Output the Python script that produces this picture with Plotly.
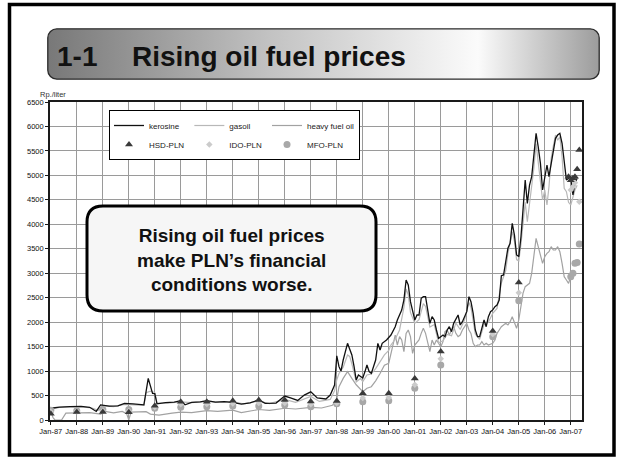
import base64
import plotly.graph_objects as go

# ---------------- data ----------------
kero_dates = ["1987-01","1987-05","1987-10","1988-03","1988-07","1988-10","1988-12","1989-04","1989-08","1989-11",
              "1990-03","1990-06","1990-08","1990-10","1990-12","1991-01","1991-02","1991-06","1991-10","1992-01",
              "1992-03","1992-06","1992-10","1993-01","1993-05","1993-09","1994-01","1994-05","1994-09","1995-01",
              "1995-04","1995-09","1996-01","1996-04","1996-07","1996-10","1997-01","1997-04","1997-08","1997-10",
              "1997-12","1998-01","1998-02","1998-03","1998-04","1998-06","1998-07","1998-08","1998-09","1998-10",
              "1998-11","1999-01","1999-02","1999-03","1999-04","1999-05","1999-07","1999-08","1999-09","1999-10",
              "1999-12","2000-01","2000-02","2000-04","2000-05","2000-07","2000-08","2000-09","2000-10","2000-11",
              "2001-01","2001-02","2001-03","2001-04","2001-05","2001-06","2001-07","2001-08","2001-09","2001-10",
              "2001-11","2001-12","2002-01","2002-02","2002-03","2002-04","2002-05","2002-06","2002-07","2002-08",
              "2002-09","2002-10","2002-11","2003-01","2003-02","2003-03","2003-04","2003-05","2003-06","2003-07",
              "2003-08","2003-09","2003-10","2003-11","2003-12","2004-01","2004-02","2004-03","2004-04","2004-05",
              "2004-06","2004-07","2004-08","2004-09","2004-10","2004-11","2004-12","2005-01","2005-02","2005-03",
              "2005-04","2005-05","2005-06","2005-07","2005-08","2005-09","2005-10","2005-11","2005-12","2006-01",
              "2006-02","2006-03","2006-04","2006-05","2006-06","2006-07","2006-08","2006-09","2006-10","2006-11",
              "2006-12","2007-01","2007-02","2007-03","2007-04"]
kero_vals = [240,265,275,278,260,175,310,285,290,340,
             330,320,310,850,545,540,330,355,365,395,
             310,360,370,395,365,375,360,325,350,410,
             340,345,490,445,400,510,575,450,430,510,
             715,1310,1090,1000,1226,1567,1465,1329,1090,818,
             920,860,990,1124,987,954,1226,1567,1431,1567,
             1635,1690,1737,1907,2044,2248,2453,2862,2760,2419,
             2044,2146,2146,2487,2521,2521,2248,1976,2112,2044,
             1840,1669,1703,1737,1703,1840,1907,1805,1976,2078,
             2146,1942,2010,2214,2521,2418,2180,1840,1703,1703,
             1907,2044,1907,2112,2214,2250,2316,2350,2453,2950,
             2964,3200,3510,3610,4020,3780,3373,3340,3750,4290,
             4906,4429,4803,4973,5382,5860,5586,5246,4701,4973,
             5212,4973,5246,5519,5758,5825,5860,5656,5314,4906,
             4940,4973,4599,4838,4940]

gas_dates = ["1987-01","1987-05","1987-10","1988-03","1988-08","1988-11","1989-01","1989-06","1989-11","1990-04",
             "1990-08","1990-09","1990-11","1991-01","1991-02","1991-07","1992-01","1992-06","1993-01","1993-06",
             "1994-01","1994-06","1995-01","1995-06","1996-01","1996-06","1996-10","1997-01","1997-05","1997-10",
             "1997-12","1998-01","1998-02","1998-04","1998-06","1998-07","1998-08","1998-10","1998-12","1999-01",
             "1999-03","1999-05","1999-07","1999-09","1999-11","2000-01","2000-02","2000-04","2000-06","2000-08",
             "2000-09","2000-10","2000-11","2001-01","2001-03","2001-05","2001-06","2001-08","2001-10","2001-12",
             "2002-02","2002-04","2002-06","2002-08","2002-10","2002-12","2003-02","2003-03","2003-05","2003-07",
             "2003-09","2003-11","2004-01","2004-03","2004-05","2004-07","2004-08","2004-10","2004-11","2004-12",
             "2005-01","2005-02","2005-03","2005-04","2005-05","2005-06","2005-07","2005-08","2005-09","2005-10",
             "2005-11","2005-12","2006-01","2006-02","2006-03","2006-04","2006-05","2006-06","2006-07","2006-08",
             "2006-09","2006-10","2006-11","2006-12","2007-01","2007-02","2007-03","2007-04"]
gas_vals = [215,255,270,270,245,200,290,275,320,315,
            300,560,590,560,350,345,370,355,380,360,
            370,330,385,335,420,360,420,480,380,420,
            600,820,950,1080,1330,1300,1150,780,850,783,
            920,940,1050,1200,1330,1420,1533,1650,1840,2300,
            2680,2560,2200,1976,2050,2380,2320,1900,1950,1580,
            1620,1750,1720,1980,1850,2050,2400,2300,1760,1650,
            1950,2000,2180,2280,2800,3050,3400,3850,3650,3280,
            3250,3600,4000,4450,4053,4450,4700,5150,5650,5250,
            4800,4497,4700,4395,4769,5348,5600,5825,5720,5790,
            5382,4736,4667,4450,4395,4560,4700,4800]

hfo_dates = ["1987-01","1987-02","1987-03","1987-06","1987-08","1988-01","1988-07","1988-12","1989-02","1989-06",
             "1989-10","1989-12","1990-01","1990-02","1990-09","1990-11","1991-03","1991-09","1992-01","1992-06",
             "1993-01","1993-06","1994-01","1994-05","1994-09","1995-01","1995-06","1996-01","1996-06","1997-01",
             "1997-06","1997-11","1998-01","1998-02","1998-04","1998-06","1998-08","1998-10","1999-01","1999-03",
             "1999-05","1999-07","1999-09","1999-11","2000-01","2000-02","2000-03","2000-04","2000-05","2000-06",
             "2000-07","2000-08","2000-09","2000-10","2000-11","2000-12","2001-01","2001-03","2001-04","2001-05",
             "2001-06","2001-07","2001-08","2001-09","2001-10","2001-11","2002-01","2002-02","2002-03","2002-04",
             "2002-05","2002-06","2002-07","2002-08","2002-09","2002-10","2002-11","2003-01","2003-02","2003-03",
             "2003-04","2003-05","2003-06","2003-07","2003-08","2003-09","2003-10","2003-11","2004-01","2004-02",
             "2004-03","2004-04","2004-05","2004-06","2004-07","2004-08","2004-09","2004-10","2004-11","2004-12",
             "2005-01","2005-02","2005-03","2005-04","2005-05","2005-06","2005-07","2005-08","2005-09","2005-10",
             "2005-11","2005-12","2006-01","2006-02","2006-03","2006-04","2006-05","2006-06","2006-07","2006-08",
             "2006-09","2006-10","2006-11","2006-12","2007-01","2007-02","2007-03"]
hfo_vals = [180,50,0,0,140,145,150,120,175,145,
            175,130,0,160,170,120,100,140,160,150,
            190,175,200,150,185,215,195,240,225,260,
            245,300,430,680,850,990,850,720,580,650,
            680,800,950,1120,1160,1363,1567,1737,1533,1703,
            1635,1397,1771,1840,1703,1363,1533,1635,1771,1874,
            1771,1567,1397,1635,1533,1635,1499,1601,1805,1840,
            1737,1840,1908,1771,1703,1737,1840,1976,1840,1771,
            1567,1499,1533,1533,1601,1533,1567,1533,1567,1635,
            1771,1840,1907,1942,1976,1942,2010,2112,1976,1874,
            2044,2316,2589,2725,2760,2794,2998,3407,3713,3543,
            3373,3203,3338,3407,3441,3543,3475,3475,3543,3441,
            3203,2930,2862,2794,2930,2998,3050]

hsd_dates = ["1987-01","1988-01","1989-01","1990-01","1991-01","1992-01","1993-01","1994-01","1995-01","1996-01",
             "1997-01","1998-01","1999-01","2000-01","2001-01","2002-01","2004-01","2005-01",
             "2006-12","2007-01","2007-02","2007-03","2007-04","2007-05"]
hsd_vals = [130,165,165,160,290,375,375,395,410,410,
            380,390,545,545,850,1400,1820,2810,
            4973,4900,4940,4973,5124,5519]

ido_dates = ["1987-01","1988-01","1989-01","1990-01","1991-01","1992-01","1993-01","1994-01","1995-01","1996-01",
             "1997-01","1998-01","1999-01","2000-01","2001-01","2002-01","2004-01","2005-01",
             "2007-01","2007-02","2007-03","2007-05"]
ido_vals = [170,180,190,185,265,320,325,335,345,350,
            320,350,450,460,720,1250,1760,2600,
            4700,4769,4850,4463]

mfo_dates = ["1987-01","1988-01","1989-01","1990-01","1991-01","1992-01","1993-01","1994-01","1995-01","1996-01",
             "1997-01","1998-01","1999-01","2000-01","2001-01","2002-01","2004-01","2005-01",
             "2007-01","2007-02","2007-03","2007-04","2007-05"]
mfo_vals = [200,190,215,215,240,260,272,286,286,307,
            272,330,375,395,647,1124,1703,2439,
            2930,2998,3203,3220,3600]

y_ticks = list(range(0, 6501, 500))

# ---------------- layout helpers ----------------
W, H = 621, 459
ML, MR, MT, MB = 50, 39, 102, 39
PW, PH = W - ML - MR, H - MT - MB

def fx(px):
    return (px - ML) / PW

def fy(py):
    return (H - MB - py) / PH

NARROW = "Liberation Sans Narrow, Arial Narrow, Liberation Sans, Arial, sans-serif"
BOLD = "Liberation Sans, Arial, Helvetica, sans-serif"

fig = go.Figure()

fig.add_trace(go.Scatter(x=hfo_dates, y=hfo_vals, mode="lines", name="heavy fuel oil",
                         line=dict(color="#a2a2a2", width=1.2), legendgroup="g3", legendrank=5))
fig.add_trace(go.Scatter(x=gas_dates, y=gas_vals, mode="lines", name="gasoil",
                         line=dict(color="#b8b8b8", width=1.2), legendgroup="g2", legendrank=3))
fig.add_trace(go.Scatter(x=kero_dates, y=kero_vals, mode="lines", name="kerosine",
                         line=dict(color="#111111", width=1.3), legendgroup="g1", legendrank=1))
fig.add_trace(go.Scatter(x=mfo_dates, y=mfo_vals, mode="markers", name="MFO-PLN",
                         marker=dict(symbol="circle", size=7, color="#a8a8a8"), legendgroup="g3", legendrank=6))
fig.add_trace(go.Scatter(x=ido_dates, y=ido_vals, mode="markers", name="IDO-PLN",
                         marker=dict(symbol="diamond", size=5, color="#cbcbcb"), legendgroup="g2", legendrank=4))
fig.add_trace(go.Scatter(x=hsd_dates, y=hsd_vals, mode="markers", name="HSD-PLN",
                         marker=dict(symbol="triangle-up", size=7, color="#3a3a3a"), legendgroup="g1", legendrank=2))

# title bar background (gradient) as an svg image
svg = ('<svg xmlns="http://www.w3.org/2000/svg" width="553" height="52" viewBox="0 0 553 52">'
       '<defs><linearGradient id="g" x1="0" y1="0" x2="1" y2="0">'
       '<stop offset="0" stop-color="#787878"/><stop offset="0.4" stop-color="#c2c2c2"/>'
       '<stop offset="0.78" stop-color="#fbfbfb"/><stop offset="1" stop-color="#9c9c9c"/>'
       '</linearGradient></defs>'
       '<rect x="0.8" y="0.8" width="551.4" height="50.4" rx="9" ry="9" fill="url(#g)" '
       'stroke="#2a2a2a" stroke-width="1.3"/></svg>')
src = "data:image/svg+xml;base64," + base64.b64encode(svg.encode()).decode()


def rounded(x0, y0, x1, y1, r):
    # pixel coords -> paper path with rounded corners
    X0, X1 = fx(x0), fx(x1)
    Yt, Yb = fy(y0), fy(y1)
    rx, ry = r / PW, r / PH
    return (f"M {X0+rx},{Yt} L {X1-rx},{Yt} Q {X1},{Yt} {X1},{Yt-ry} "
            f"L {X1},{Yb+ry} Q {X1},{Yb} {X1-rx},{Yb} L {X0+rx},{Yb} "
            f"Q {X0},{Yb} {X0},{Yb+ry} L {X0},{Yt-ry} Q {X0},{Yt} {X0+rx},{Yt} Z")


shapes = [
    dict(type="rect", xref="paper", yref="paper", x0=fx(9.5), x1=fx(614), y0=fy(455), y1=fy(4.5),
         line=dict(color="black", width=3.5), fillcolor="rgba(0,0,0,0)", layer="above"),
    dict(type="path", xref="paper", yref="paper", path=rounded(87, 206, 376, 311, 16),
         line=dict(color="black", width=3), fillcolor="#f6f6f6", layer="above"),
]

annotations = [
    dict(text="1-1", xref="paper", yref="paper", x=fx(55), y=fy(57), xanchor="left", yanchor="middle",
         showarrow=False, font=dict(family=BOLD, size=28, color="#111", weight="bold")),
    dict(text="Rising oil fuel prices", xref="paper", yref="paper", x=fx(130), y=fy(57),
         xanchor="left", yanchor="middle", showarrow=False,
         font=dict(family=BOLD, size=28, color="#111", weight="bold")),
    dict(text="Rp./liter", xref="paper", yref="paper", x=fx(38), y=fy(94), xanchor="left", yanchor="middle",
         showarrow=False, font=dict(family=NARROW, size=7.5, color="#333")),
    dict(text="Rising oil fuel prices<br>make PLN\u2019s financial<br>conditions worse.",
         xref="paper", yref="paper", x=fx(231), y=fy(260), xanchor="center", yanchor="middle",
         showarrow=False, align="center",
         font=dict(family=BOLD, size=19, color="#111", weight="bold")),
]

fig.update_layout(
    width=W, height=H,
    margin=dict(l=ML, r=MR, t=MT, b=MB, pad=0),
    paper_bgcolor="white", plot_bgcolor="white",
    shapes=shapes, annotations=annotations,
    images=[dict(source=src, xref="paper", yref="paper", x=fx(47), y=fy(28),
                 sizex=553 / PW, sizey=52 / PH, xanchor="left", yanchor="top",
                 sizing="stretch", layer="above")],
    showlegend=True,
    legend=dict(orientation="h", traceorder="grouped", x=fx(109), y=fy(110),
                xanchor="left", yanchor="top", bgcolor="white", bordercolor="black", borderwidth=1,
                font=dict(family=NARROW, size=8, color="#222"), itemwidth=30, tracegroupgap=0),
    xaxis=dict(type="date", range=["1986-12-21", "2007-06-08"], tick0="1987-01-01", dtick="M12",
               tickformat="%b-%y", showgrid=True, gridcolor="#9a9a9a", gridwidth=1.4,
               showline=True, mirror=True, linecolor="#1a1a1a", linewidth=1.6,
               ticks="outside", ticklen=3, tickcolor="#1a1a1a",
               tickfont=dict(family=NARROW, size=7.5, color="#111"), zeroline=False),
    yaxis=dict(range=[0, 6500], tickvals=y_ticks, showgrid=True, gridcolor="#9a9a9a", gridwidth=1.4,
               showline=True, mirror=True, linecolor="#1a1a1a", linewidth=1.6,
               ticks="outside", ticklen=3, tickcolor="#1a1a1a",
               tickfont=dict(family=NARROW, size=7.5, color="#111"), zeroline=False),
    hovermode=False,
)

fig.write_html("out.html", config={"displayModeBar": False},
               post_script="document.body.style.margin='0';document.body.style.padding='0';")
